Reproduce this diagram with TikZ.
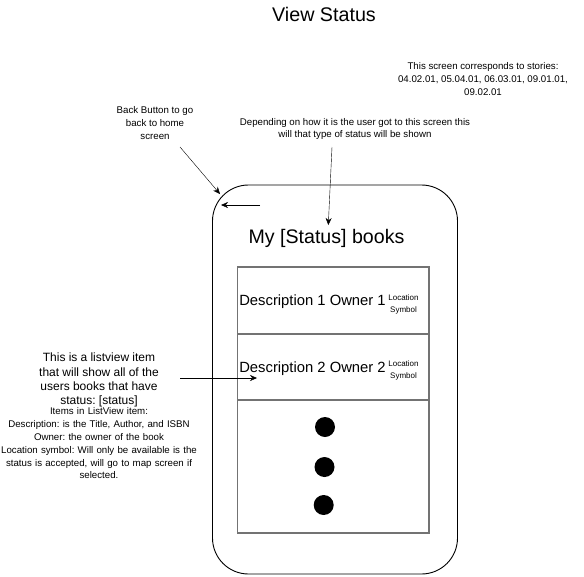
\documentclass[tikz,border=0pt]{standalone}
\usepackage{fontspec}
\setmainfont{Liberation Sans}
\frenchspacing
\usetikzlibrary{arrows.meta}

\begin{document}
\begin{tikzpicture}[x=1pt,y=-1pt,>={Stealth[length=7pt,width=6pt]},
  note/.style={align=center,inner sep=0pt,font=\fontsize{9.7}{12.8}\selectfont},
  row/.style={draw=black!55,line width=1.2pt,minimum width=191.5pt,inner sep=0pt},
  dot/.style={circle,fill=black,minimum size=20pt,inner sep=0pt}]
  \useasboundingbox (0,0) rectangle (584,576);

  \node (title) at (324,14){\fontsize{19.7}{22}\selectfont View Status};

  \node[draw,line width=0.9pt,rounded corners=36pt,minimum width=245pt,minimum height=389pt] (phone) at (335,379.5){};
  \node (heading) at (326.5,238){\fontsize{19.6}{22}\selectfont My [Status] books};

  \node[row,minimum height=67pt] (row1) at (333.25,300.5){};
  \node[row,minimum height=66pt] (row2) at (333.25,367){};
  \node[row,minimum height=133pt] (row3) at (333.25,466.5){};

  \node[inner sep=0pt] (desc1) at (312.5,302){\fontsize{14.8}{17}\selectfont Description 1 Owner 1};
  \node[note,font=\fontsize{8}{12.5}\selectfont] (loc1) at (403.5,304.5){Location\\Symbol};
  \node[inner sep=0pt] (desc2) at (312.5,369){\fontsize{14.8}{17}\selectfont Description 2 Owner 2};
  \node[note,font=\fontsize{8}{12.5}\selectfont] (loc2) at (403.5,370.5){Location\\Symbol};

  \node[dot] (d1) at (325,427){};
  \node[dot] (d2) at (324.5,467){};
  \node[dot] (d3) at (323.7,505){};

  \node[note] (stories) at (483,79){This screen corresponds to stories:\\04.02.01, 05.04.01, 06.03.01, 09.01.01,\\09.02.01};
  \node[note] (backnote) at (155,123){Back Button to go\\back to home\\screen};
  \node[note] (statusnote) at (355,129){Depending on how it is the user got to this screen this\\will that type of status will be shown};
  \node[note,text width=200pt] (listnote) at (99,416){\fontsize{12}{14.3}\selectfont This is a listview item\\that will show all of the\\users books that have\\status: [status]\par\vspace{-2.5pt}\fontsize{9.7}{12.8}\selectfont Items in ListView item:\\Description: is the Title, Author, and ISBN\\Owner: the owner of the book\\Location symbol: Will only be available is the\\status is accepted, will go to map screen if\\selected.};

  \coordinate (backtail) at (260,205);
  \coordinate (backhead) at (221,205);
  \coordinate (backfrom) at (180,147);
  \coordinate (backto) at (220,194);
  \coordinate (statusfrom) at (332,147);
  \coordinate (statusto) at (328.3,225);
  \coordinate (listfrom) at (180,378);
  \coordinate (listto) at (257,378);

  \draw[->] (backtail) -- (backhead);
  \draw[->] (backfrom) -- (backto);
  \draw[->] (statusfrom) -- (statusto);
  \draw[->] (listfrom) -- (listto);

\end{tikzpicture}
\end{document}
